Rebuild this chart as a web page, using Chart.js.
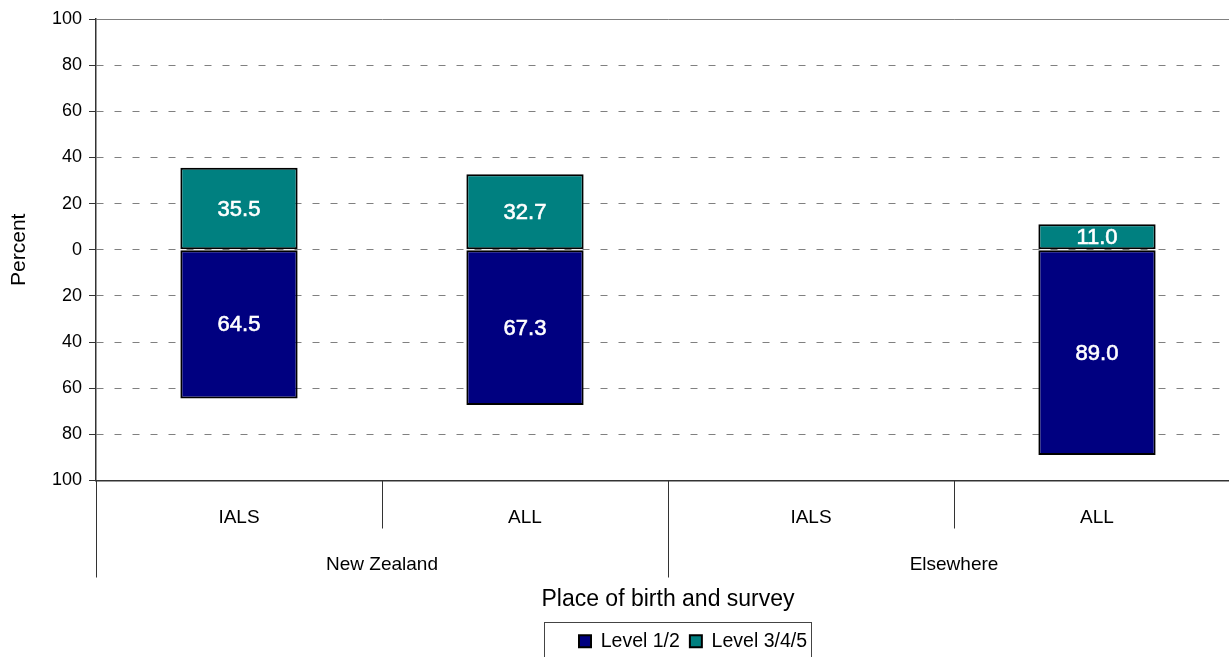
<!DOCTYPE html>
<html>
<head>
<meta charset="utf-8">
<script src="https://cdn.jsdelivr.net/npm/chart.js@4"></script>
<style>
  html, body { margin: 0; padding: 0; overflow: hidden; background: #fff; }
  #wrap { width: 1242px; height: 661px; }
</style>
</head>
<body>
<div id="wrap"><canvas id="grafico"></canvas></div>
<script>
// Datos del grafico
const categorias = ["IALS", "ALL", "IALS", "ALL"];
const grupos = ["New Zealand", "Elsewhere"];
const nivel12 = [64.5, 67.3, null, 89.0];   // Level 1/2 (hacia abajo)
const nivel345 = [35.5, 32.7, null, 11.0];  // Level 3/4/5 (hacia arriba)
const etiquetasY = ["100", "80", "60", "40", "20", "0", "20", "40", "60", "80", "100"];

const azul = "#000080";
const verde = "#008080";

Chart.defaults.font.family = "'Liberation Sans', Arial, sans-serif";
Chart.defaults.color = "#000";

// Etiquetas blancas dentro de las barras
const etiquetasBarras = {
    id: "etiquetasBarras",
    afterDatasetsDraw(chart) {
        const ctx = chart.ctx;
        ctx.save();
        ctx.fillStyle = "#fff";
        ctx.font = "22px 'Liberation Sans', Arial";
        ctx.textAlign = "center";
        ctx.textBaseline = "middle";
        chart.data.datasets.forEach(function (ds, d) {
            const meta = chart.getDatasetMeta(d);
            meta.data.forEach(function (bar, i) {
                const v = ds.data[i];
                if (v === null) return;
                const p = bar.getProps(["x", "y", "base"], true);
                // contorno fino para dar algo de peso al texto
                ctx.lineWidth = 0.6;
                ctx.strokeStyle = "#fff";
                ctx.strokeText(Math.abs(v).toFixed(1), p.x, (p.y + p.base) / 2 + 1);
                ctx.fillText(Math.abs(v).toFixed(1), p.x, (p.y + p.base) / 2 + 1);
            });
        });
        ctx.restore();
    }
};

// Lineas divisorias del eje x y marco de la leyenda
const divisores = {
    id: "divisores",
    afterLayout(chart) {
        const lg = chart.legend;
        const pad = lg.options.labels.padding;
        const ancho = lg.lineWidths[0];
        const actual = (lg.left + pad + lg.right - ancho) / 2 + ancho / 2;
        const deseado = (chart.chartArea.left + chart.chartArea.right) / 2 + 30;
        const delta = deseado - actual;
        lg.left += delta;
        lg.right += delta;
    },
    afterDraw(chart) {
        const ctx = chart.ctx;
        const x = chart.scales.x;
        const area = chart.chartArea;
        const mitad = (x.getPixelForValue(1) - x.getPixelForValue(0)) / 2;
        ctx.save();
        ctx.strokeStyle = "#333";
        ctx.lineWidth = 1;
        for (let i = 0; i < categorias.length; i++) {
            const px = Math.round(x.getPixelForValue(i) - mitad) + 0.5;
            const fin = (i % 2 === 0) ? x.bottom + 49 : x.bottom;
            ctx.beginPath();
            ctx.moveTo(px, area.bottom);
            ctx.lineTo(px, fin);
            ctx.stroke();
        }
        // marco de la leyenda
        const lg = chart.legend;
        const cajas = lg.legendHitBoxes;
        if (cajas && cajas.length) {
            const ultimo = cajas[cajas.length - 1];
            const izq = cajas[0].left - 35;
            const der = ultimo.left + ultimo.width + 4;
            ctx.strokeStyle = "#444";
            ctx.strokeRect(Math.round(izq) + 0.5, Math.round(lg.top) + 0.5, Math.round(der - izq), 60);
        }
        ctx.restore();
    }
};

new Chart("grafico", {
    type: "bar",
    data: {
        labels: categorias,
        datasets: [{
            label: "Level 1/2",
            data: nivel12.map(v => v === null ? null : -v),
            backgroundColor: azul,
            borderColor: "#000",
            borderWidth: 2,
            borderSkipped: false,
            barPercentage: 0.41,
            categoryPercentage: 1
        }, {
            label: "Level 3/4/5",
            data: nivel345,
            backgroundColor: verde,
            borderColor: "#000",
            borderWidth: 2,
            borderSkipped: false,
            barPercentage: 0.41,
            categoryPercentage: 1
        }]
    },
    options: {
        responsive: true,
        maintainAspectRatio: false,
        animation: false,
        layout: { padding: { top: 19, right: 2, left: 0, bottom: 0 } },
        plugins: {
            tooltip: { enabled: false },
            legend: {
                position: "bottom",
                labels: {
                    boxWidth: 12,
                    boxHeight: 12,
                    padding: 10,
                    font: { size: 19.5 },
                    color: "#000"
                }
            }
        },
        scales: {
            x: {
                stacked: true,
                weight: 0,
                grid: { display: false, drawTicks: false },
                border: { display: true, color: "#333", width: 1.5 },
                ticks: { padding: 26, font: { size: 19 }, color: "#000" },
                afterFit(scale) { scale.height = 48; }
            },
            x2: {
                type: "category",
                labels: grupos,
                position: "bottom",
                offset: true,
                weight: 1,
                grid: { display: false, drawTicks: false },
                border: { display: false },
                ticks: { padding: 25, font: { size: 19 }, color: "#000" },
                title: {
                    display: true,
                    text: "Place of birth and survey",
                    font: { size: 23 },
                    color: "#000",
                    padding: { top: 0, bottom: 8 }
                },
                afterFit(scale) { scale.height = 93; }
            },
            y: {
                stacked: true,
                min: -100,
                max: 100,
                ticks: {
                    stepSize: 20,
                    padding: 7,
                    font: { size: 18 },
                    color: "#000",
                    callback: function (v, i) { return etiquetasY[i]; }
                },
                grid: {
                    color: c => (c.tick && c.tick.value === -100) ? "#333" : "#808080",
                    lineWidth: 1,
                    tickLength: 7,
                    tickColor: "#333",
                    tickBorderDash: []
                },
                border: {
                    display: true,
                    color: "#333",
                    width: 1.5,
                    dash: c => (c.tick && Math.abs(c.tick.value) < 100) ? [7, 11] : []
                },
                title: {
                    display: true,
                    text: "Percent",
                    font: { size: 21 },
                    color: "#000",
                    padding: { top: 7, bottom: 0 }
                },
                afterFit(scale) { scale.width = 96; }
            }
        }
    },
    plugins: [etiquetasBarras, divisores]
});
</script>
</body>
</html>
